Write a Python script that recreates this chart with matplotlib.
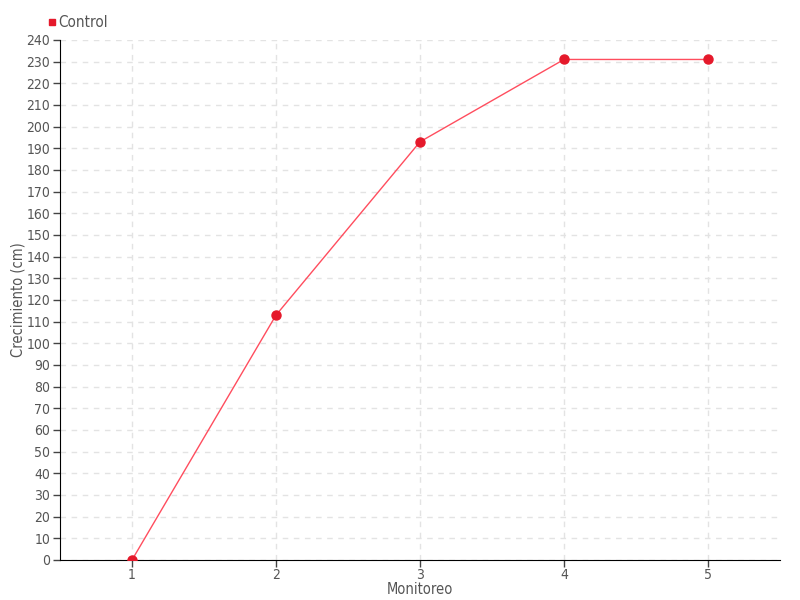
import matplotlib
matplotlib.use("Agg")
import matplotlib.pyplot as plt

# Datos
monitoreo = [1, 2, 3, 4, 5]
control = [0, 113, 193, 231, 231]
y_ticks = list(range(0, 241, 10))

plt.rcParams["font.family"] = ["DejaVu Sans"]
plt.rcParams["font.stretch"] = "condensed"
txt = "#555555"

fig = plt.figure(figsize=(8, 6), dpi=100)
ax = fig.add_axes([0.075, 0.0667, 0.9, 0.8667])

ax.plot(monitoreo, control, color="#ff4d5e", lw=1, zorder=3)
ax.plot(monitoreo, control, "o", color="#e5192b", ms=6.5, zorder=4, label="Control")

ax.set_xlim(0.5, 5.5)
ax.set_ylim(0, 240)
ax.set_xticks(monitoreo)
ax.set_yticks(y_ticks)

ax.grid(True, color="#e3e3e3", ls=(0, (4, 4)), lw=1)
ax.set_axisbelow(True)
for s in ["top", "right"]:
    ax.spines[s].set_visible(False)
ax.spines["left"].set_color("black")
ax.spines["bottom"].set_color("black")

ax.tick_params(axis="both", colors="#444444", labelcolor=txt, labelsize=10, length=5, width=1)
ax.tick_params(axis="x", pad=1)
ax.tick_params(axis="y", pad=2)

ax.set_xlabel("Monitoreo", color=txt, fontsize=10.5, labelpad=0)
ax.set_ylabel("Crecimiento (cm)", color=txt, fontsize=10.5, labelpad=1)

fig.legend(handles=[plt.Line2D([], [], marker="s", color="#e5192b", ls="", ms=5)],
           labels=["Control"], loc="upper left", bbox_to_anchor=(0.052, 0.985),
           frameon=False, fontsize=11, labelcolor=txt, handletextpad=0.1,
           handlelength=0.6, borderaxespad=0)

fig.savefig("out.png", dpi=100)
